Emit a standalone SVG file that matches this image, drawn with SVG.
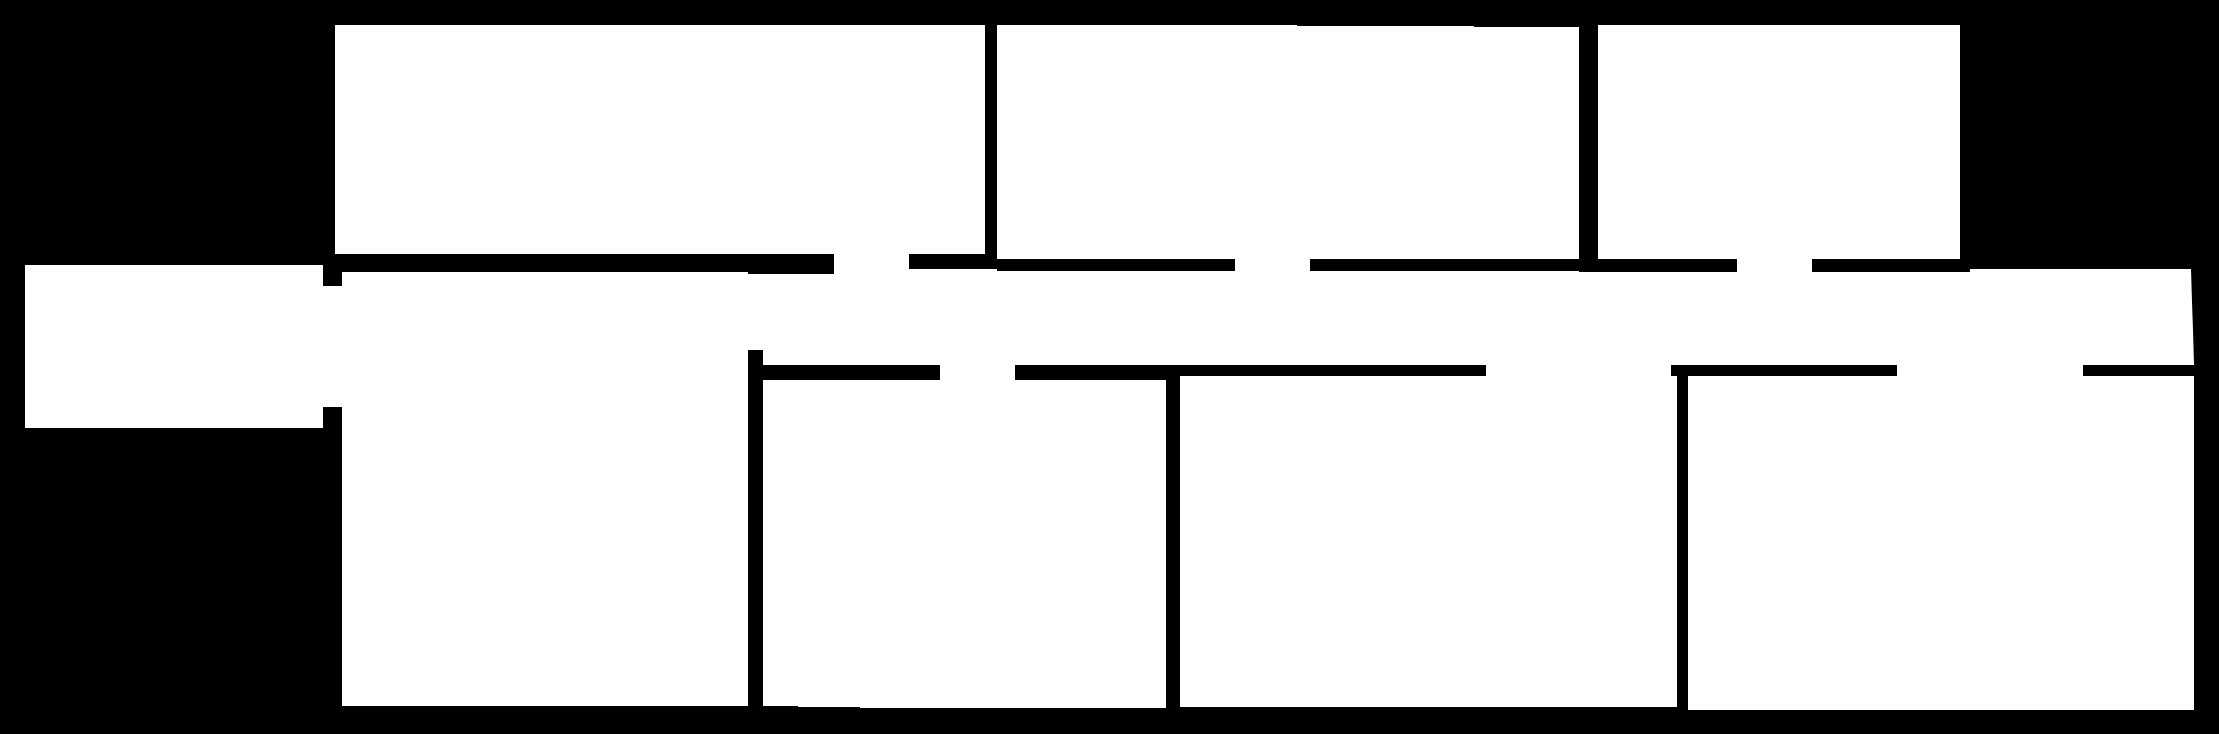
<svg xmlns="http://www.w3.org/2000/svg" width="2219" height="734" viewBox="0 0 2219 734">
<style>.space{fill:#fff}</style>
<rect id="background" width="2219" height="734" fill="#000"/>
<g id="rooms" class="space">
<rect id="room-a" x="335" y="25" width="650" height="229"/>
<polygon id="room-b" points="997,25 1297,25 1297,26 1474,26 1474,27 1579,27 1579,259 997,259"/>
<rect id="room-d" x="1598" y="25" width="362" height="234"/>
<rect id="room-c" x="25" y="265" width="298" height="163"/>
<polygon id="corridor" points="342,272 677,272 677,274 834,274 834,269 997,269 997,271 1579,271 1579,272 1970,272 1970,269 2191,269 2192,302 2193,330 2194,365 763,365 763,350 748,350 748,365 342,365"/>
<rect id="room-e" x="342" y="272" width="406" height="434"/>
<polygon id="room-f" points="763,380 1166,380 1166,708 860,708 860,707 798,707 798,706 763,706"/>
<rect id="room-g" x="1180" y="376" width="497" height="331"/>
<rect id="room-h" x="1688" y="376" width="506" height="334"/>
</g>
<g id="doors" class="space">
<rect id="door-a" x="834" y="254" width="75" height="20"/>
<rect id="door-b" x="1235" y="259" width="75" height="12"/>
<rect id="door-d" x="1737" y="259" width="75" height="13"/>
<rect id="door-c" x="323" y="286" width="19" height="121"/>
<rect id="door-f" x="940" y="365" width="75" height="15"/>
<rect id="door-g" x="1486" y="365" width="185" height="11"/>
<rect id="door-h" x="1897" y="365" width="186" height="11"/>
</g>
</svg>
